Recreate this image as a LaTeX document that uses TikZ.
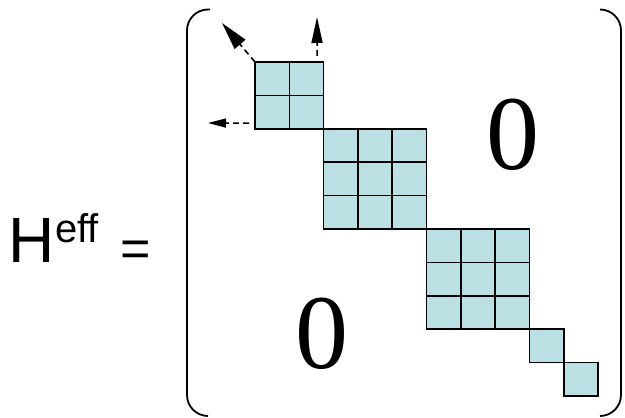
\documentclass[tikz,border=0pt]{standalone}
\usepackage{fontspec}
\setmainfont{Liberation Serif}
\newfontfamily\arialf{Liberation Sans}
\usetikzlibrary{arrows.meta}
\definecolor{cellfill}{HTML}{BBE0E3}

\begin{document}
\begin{tikzpicture}[
  x=1pt, y=1pt,
  cell/.style={draw=black, fill=cellfill, line width=1.6pt},
  brak/.style={draw=black, line width=1.8pt, rounded corners=21pt},
  hop/.style 2 args={-{Triangle[length=#1, width=#2]}, dash pattern=on 6pt off 4pt, line width=1.6pt},
  zero/.style={font=\fontsize{106}{106}\selectfont, inner sep=0pt},
  lhs/.style={inner sep=0pt, anchor=base west}
]
\useasboundingbox (0,0) rectangle (625,418);

% left-hand side
\node[lhs, font=\arialf\fontsize{64}{64}\selectfont] (hh) at (8,155) {H};
\node[lhs, font=\arialf\fontsize{40}{40}\selectfont] (sup) at (55,175) {eff};
\node[lhs, font=\arialf\fontsize{52}{52}\selectfont] (eq) at (120,151) {=};

% matrix brackets
\draw[brak] (210,408.5) -| (187,2) -- (208,2);
\draw[brak] (600,408.5) -| (621,2) -- (600,2);

% diagonal blocks: offset/size in cells
\begin{scope}[shift={(255,356)}, x=34.3pt, y=33.4pt]
  \foreach \o/\n in {0/2, 2/3, 5/3, 8/1, 9/1} {
    \foreach \i in {1,...,\n} {
      \foreach \j in {1,...,\n} {
        \draw[cell] (\o+\i-1, -\o-\j+1) rectangle ++(1,-1);
      }
    }
  }
  \coordinate (corner) at (0,0);
  \coordinate (upfrom) at (1.81,0.18);
  \coordinate (leftfrom) at (-0.17,-1.83);
\end{scope}

\coordinate (diagto) at (222,395);
\coordinate (upto) at (317,401);
\coordinate (leftto) at (208,295);
\draw[hop={28pt}{14pt}] (corner) -- (diagto);
\draw[hop={26pt}{11pt}] (upfrom) -- (upto);
\draw[hop={18pt}{9pt}] (leftfrom) -- (leftto);

% zero blocks
\node[zero] (zup) at (513,283) {0};
\node[zero] (zlo) at (322,84) {0};
\end{tikzpicture}
\end{document}
